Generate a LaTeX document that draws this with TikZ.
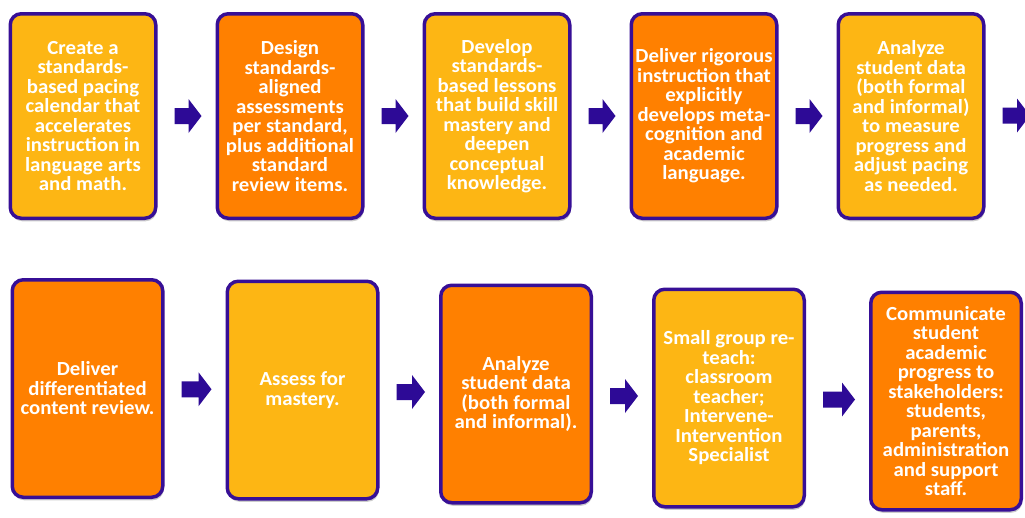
\documentclass[tikz,border=0pt]{standalone}
\usepackage{fontspec}
\newfontfamily\stagefont{Carlito}[FakeStretch=1.04]
\usetikzlibrary{positioning, calc, shadows}

\definecolor{lightor}{RGB}{253,182,20}
\definecolor{darkor}{RGB}{255,128,0}
\definecolor{rim}{RGB}{55,15,150}
\definecolor{arrowblue}{RGB}{45,10,150}

\begin{document}
\begin{tikzpicture}[x=1pt, y=-1pt, on grid, node distance=207pt,
    stage/.style={draw=rim, line width=3.5pt, rounded corners=11pt,
        minimum width=145.5pt, minimum height=204.5pt, inner sep=2pt,
        align=center, text=white,
        font=\stagefont\bfseries\fontsize{20}{19.5}\selectfont,
        drop shadow={shadow xshift=1pt, shadow yshift=-3pt, opacity=0.2, fill=black}},
    tall/.style={minimum width=150.5pt, minimum height=217.5pt},
    blockarrow/.style={fill=arrowblue, to path={
        let \p1=(\tikztostart), \p2=(\tikztotarget), \n1={0.5*\y1+0.5*\y2} in
        (\x1+17pt,\n1+8pt) -- (\x2-27pt,\n1+8pt) -- (\x2-27pt,\n1+17pt) -- (\x2-14pt,\n1)
        -- (\x2-27pt,\n1-17pt) -- (\x2-27pt,\n1-8pt) -- (\x1+17pt,\n1-8pt) -- cycle}}]
            \fill[white] (0,0) rectangle (1025,517);
            \useasboundingbox (0,0) rectangle (1025,517);
            % first row
            \node [stage, fill=lightor] (b1) at (83,116) {Create a\\standards-\\based pacing\\calendar that\\accelerates\\instruction in\\language arts\\and math.};
            \node [stage, fill=darkor] [right=of b1] (b2) {Design\\standards-\\aligned\\assessments\\per standard,\\plus additional\\standard\\review items.};
            \node [stage, fill=lightor] [right=of b2] (b3) {Develop\\standards-\\based lessons\\that build skill\\mastery and\\deepen\\conceptual\\knowledge.};
            \node [stage, fill=darkor] [right=of b3] (b4) {Deliver rigorous\\instruction that\\explicitly\\develops meta-\\cognition and\\academic\\language.};
            \node [stage, fill=lightor] [right=of b4] (b5) {Analyze\\student data\\(both formal\\and informal)\\to measure\\progress and\\adjust pacing\\as needed.};
            \coordinate (out) at (1044,115);
            % second row
            \node [stage, tall, fill=darkor] (b6) at (87.5,388.5) {Deliver\\differentiated\\content review.};
            \node [stage, tall, fill=lightor] [right=215pt of b6, yshift=-1.5pt] (b7) {Assess for\\mastery.};
            \node [stage, tall, fill=darkor] [right=213.5pt of b7, yshift=-4pt] (b8) {Analyze\\student data\\(both formal\\and informal).};
            \node [stage, tall, fill=lightor] [right=213pt of b8, yshift=-4pt] (b9) {Small group re-\\teach:\\classroom\\teacher;\\Intervene-\\Intervention\\Specialist};
            \node [stage, tall, fill=darkor] [right=217pt of b9, yshift=-3pt] (b10) {Communicate\\student\\academic\\progress to\\stakeholders:\\students,\\parents,\\administration\\and support\\staff.};
            % arrows
            \foreach \a/\b in {b1/b2, b2/b3, b3/b4, b4/b5, b6/b7, b7/b8, b8/b9, b9/b10}
                \path [blockarrow] (\a.east) to (\b.west);
            \path [blockarrow] (b5.east) to (out);
\end{tikzpicture}
\end{document}
